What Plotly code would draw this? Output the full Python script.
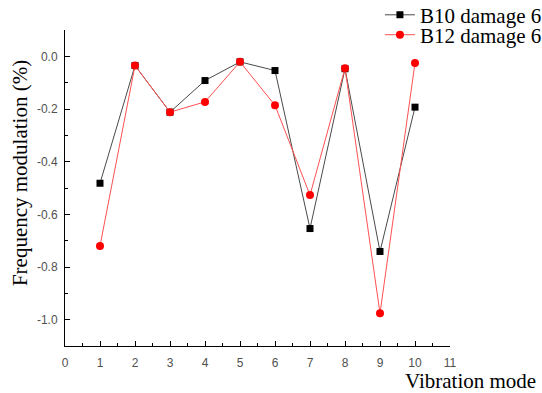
import plotly.graph_objects as go

modes = [1, 2, 3, 4, 5, 6, 7, 8, 9, 10]
b10_values = [-0.482, -0.035, -0.212, -0.092, -0.021, -0.054, -0.654, -0.047, -0.741, -0.193]
b12_values = [-0.720, -0.035, -0.212, -0.173, -0.021, -0.186, -0.527, -0.045, -0.976, -0.025]
y_ticks = [0.0, -0.2, -0.4, -0.6, -0.8, -1.0]
y_tick_labels = ["0.0", "-0.2", "-0.4", "-0.6", "-0.8", "-1.0"]
x_ticks = list(range(0, 12))

serif = "Liberation Serif"
sans = "Liberation Sans"

fig = go.Figure()
fig.add_trace(go.Scatter(
    x=modes, y=b10_values, name="B10 damage 6",
    mode="lines+markers", legend="legend",
    line=dict(color="#4a4a4a", width=1),
    marker=dict(symbol="square", size=7, color="#000000"),
))
fig.add_trace(go.Scatter(
    x=modes, y=b12_values, name="B12 damage 6",
    mode="lines+markers", legend="legend2",
    line=dict(color="#ff5050", width=1),
    marker=dict(symbol="circle", size=8, color="#ff0000"),
))

legend_style = dict(
    xanchor="left", yanchor="middle",
    font=dict(family=serif, size=21, color="#000000"),
    bgcolor="rgba(0,0,0,0)", itemwidth=30,
)

fig.update_layout(
    width=542, height=393,
    margin=dict(l=65, r=92, t=30, b=47, autoexpand=False),
    paper_bgcolor="white", plot_bgcolor="white",
    showlegend=True,
    legend=dict(x=0.818, y=1.047, **legend_style),
    legend2=dict(x=0.818, y=0.984, **legend_style),
    xaxis=dict(
        range=[0, 11], tickmode="array", tickvals=x_ticks,
        showline=True, linecolor="#000000", linewidth=1,
        ticks="inside", ticklen=5, tickcolor="#000000",
        minor=dict(ticks="inside", ticklen=3, dtick=0.5, tick0=0, tickcolor="#000000"),
        showgrid=False, zeroline=False, ticklabelstandoff=6,
        tickfont=dict(family=sans, size=12, color="#505050"),
    ),
    yaxis=dict(
        range=[-1.1, 0.1], tickmode="array", tickvals=y_ticks, ticktext=y_tick_labels,
        showline=True, linecolor="#000000", linewidth=1,
        ticks="inside", ticklen=5, tickcolor="#000000",
        minor=dict(ticks="inside", ticklen=3, dtick=0.1, tick0=0, tickcolor="#000000"),
        showgrid=False, zeroline=False, ticklabelstandoff=4,
        tickfont=dict(family=sans, size=12, color="#505050"),
    ),
)

# y-axis title, rotated, left of the tick labels
fig.add_annotation(
    text="Frequency modulation (%)", xref="paper", yref="paper",
    x=-0.117, y=0.547, xanchor="center", yanchor="middle", textangle=-90,
    showarrow=False, font=dict(family=serif, size=21, color="#000000"),
)

# x-axis title at the lower right, below the tick labels
fig.add_annotation(
    text="Vibration mode", xref="paper", yref="paper",
    x=0.878, y=-0.111, xanchor="left", yanchor="middle",
    showarrow=False, font=dict(family=serif, size=21, color="#000000"),
)

fig.write_html("out.html")
